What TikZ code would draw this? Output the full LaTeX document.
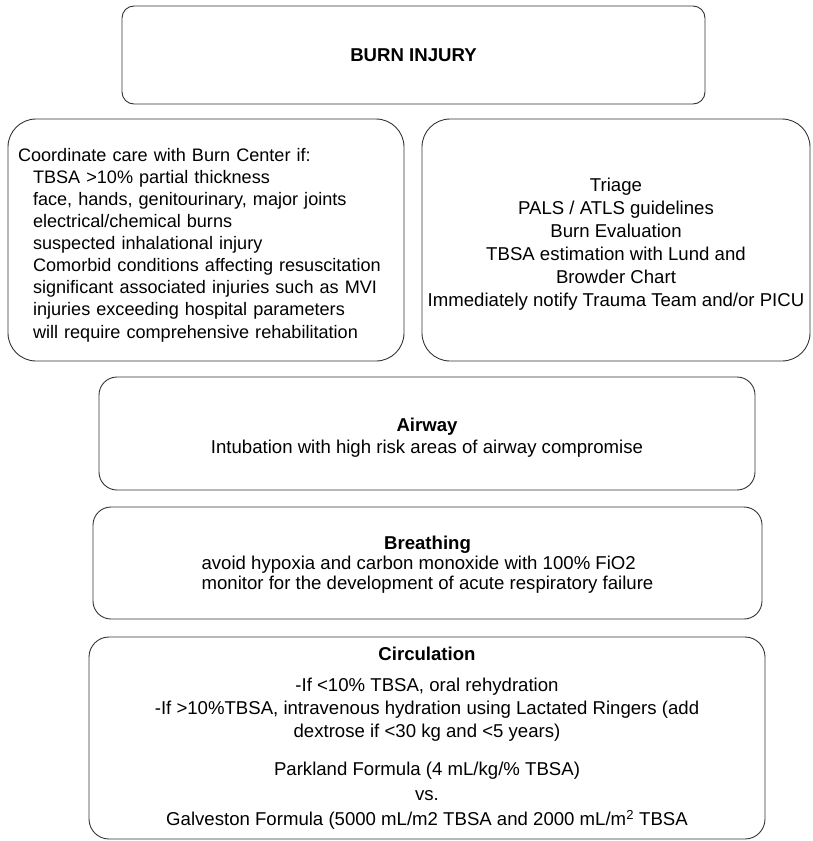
\documentclass[tikz,border=0pt]{standalone}
\usepackage{fontspec}
\setmainfont{Liberation Sans}

% invisible strut to push a box's text down a little
\newcommand{\padtop}[1]{\rule{0pt}{#1}}

\tikzset{
  stagebox/.style={draw=black!80, line width=0.9pt, rounded corners=#1,
    inner sep=0pt, align=center, font=\fontsize{18.6}{22}\selectfont},
  stagebox/.default=18pt
}

\begin{document}
\begin{tikzpicture}[x=1pt,y=-1pt]
  \useasboundingbox (0,0) rectangle (812,841);

  % Top box
  \node[stagebox=12pt, minimum width=583pt, minimum height=98pt] (burn) at (413.5,55)
    {\textbf{BURN INJURY}};

  % Burn center criteria (left) and triage (right)
  \node[stagebox=28pt, minimum width=396pt, minimum height=242pt, align=left, text width=376pt,
        font=\fontsize{18.1}{22.1}\selectfont] (center) at (206,240)
    {\padtop{23pt}Coordinate care with Burn Center if:\\
     \hspace*{15pt}TBSA >10\% partial thickness\\
     \hspace*{15pt}face, hands, genitourinary, major joints\\
     \hspace*{15pt}electrical/chemical burns\\
     \hspace*{15pt}suspected inhalational injury\\
     \hspace*{15pt}Comorbid conditions affecting resuscitation\\
     \hspace*{15pt}significant associated injuries such as MVI\\
     \hspace*{15pt}injuries exceeding hospital parameters\\
     \hspace*{15pt}will require comprehensive rehabilitation};
  \node[stagebox=28pt, minimum width=388pt, minimum height=242pt, font=\fontsize{18.6}{23}\selectfont] (triage) at (616,240)
    {\padtop{22.5pt}Triage\\
     PALS / ATLS guidelines\\
     Burn Evaluation\\
     TBSA estimation with Lund and\\
     Browder Chart\\
     \makebox[360pt]{Immediately notify Trauma Team and/or PICU}};

  % ABC boxes
  \node[stagebox, minimum width=656pt, minimum height=113pt] (airway) at (427,433.5)
    {\padtop{22.5pt}\textbf{Airway}\\
     Intubation with high risk areas of airway compromise};
  \node[stagebox, minimum width=669pt, minimum height=112pt, font=\fontsize{18.6}{20}\selectfont] (breathing) at (427.5,563)
    {\padtop{18.5pt}\textbf{Breathing}\\
     \begin{tabular}[t]{@{}l@{}}
       avoid hypoxia and carbon monoxide with 100\% FiO2\\
       monitor for the development of acute respiratory failure
     \end{tabular}};
  \node[stagebox=20pt, minimum width=676pt, minimum height=202pt, font=\fontsize{18.6}{23}\selectfont] (circulation) at (427,738)
    {\textbf{Circulation}\\[8pt]
     -If <10\% TBSA, oral rehydration\\
     -If >10\%TBSA, intravenous hydration using Lactated Ringers (add\\
     dextrose if <30 kg and <5 years)\\[15pt]
     Parkland Formula (4 mL/kg/\% TBSA)\\[2pt]
     vs.\\[2pt]
     Galveston Formula (5000 mL/m2 TBSA and 2000 mL/m\textsuperscript{2} TBSA};

\end{tikzpicture}
\end{document}
